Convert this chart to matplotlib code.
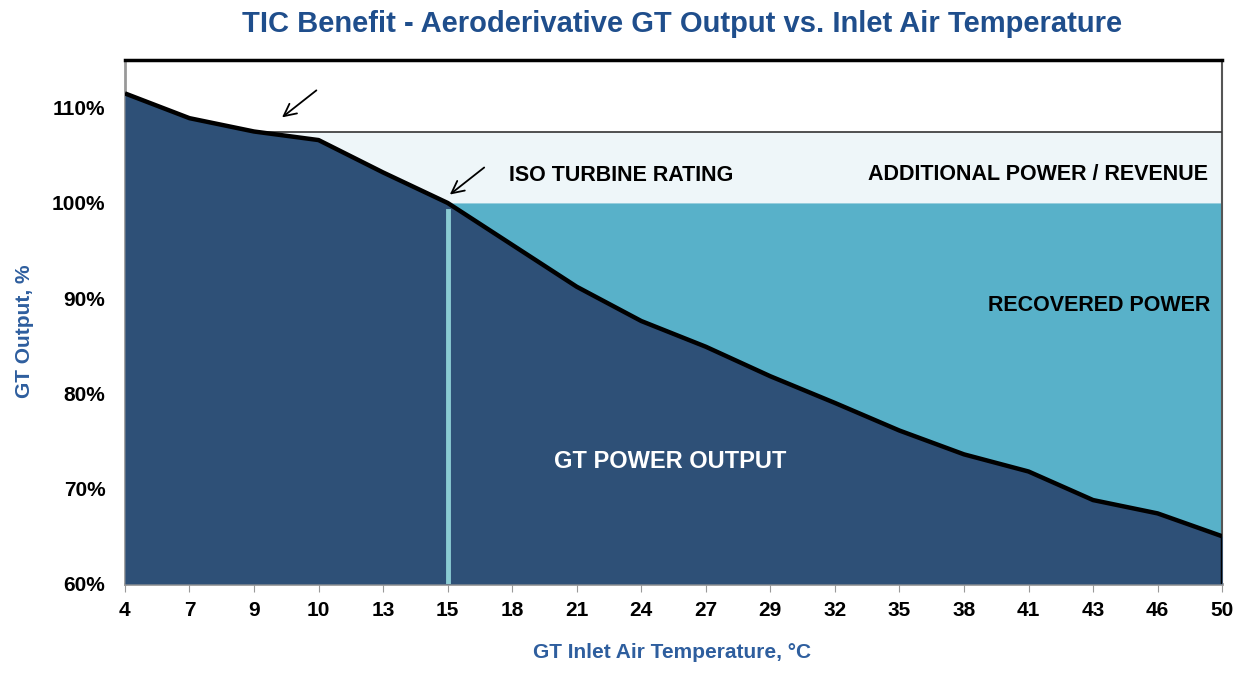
import matplotlib
matplotlib.use("Agg")
import matplotlib.pyplot as plt
import numpy as np

# data
temps = [4, 7, 9, 10, 13, 15, 18, 21, 24, 27, 29, 32, 35, 38, 41, 43, 46, 50]
output_pct = [111.5, 108.9, 107.5, 106.6, 103.2, 100.0, 95.6, 91.2, 87.6, 84.9,
              81.8, 79.0, 76.1, 73.6, 71.8, 68.8, 67.4, 65.0]
iso_temp = 15
iso_rating = 100.0
cap_rating = 107.5
y_ticks = [60, 70, 80, 90, 100, 110]

plt.rcParams['font.family'] = ['Liberation Sans Narrow', 'Liberation Sans', 'DejaVu Sans']
plt.rcParams['font.weight'] = 'bold'

navy = '#2E5077'
teal = '#58B1C9'
pale = '#EEF6F9'
blue_txt = '#1F4E8C'

x = np.arange(len(temps))
y = np.array(output_pct)
iso_idx = temps.index(iso_temp)

fig = plt.figure(figsize=(12.37, 6.75), dpi=100)
ax = fig.add_axes([0.101, 0.135, 0.887, 0.776])

# pale band between cap line and the curve / ISO line
ax.fill_between(x, np.minimum(y, cap_rating), cap_rating, where=y <= cap_rating + 0.01,
                color=pale, interpolate=True, lw=0, zorder=1)
# recovered power: between curve and ISO rating, after the ISO point
ax.fill_between(x[iso_idx:], y[iso_idx:], iso_rating, color=teal, lw=0, zorder=2)
# GT power output
ax.fill_between(x, 60, y, color=navy, lw=0, zorder=3)

# cap line
cross = np.interp(-cap_rating, -y, x)
ax.plot([cross, x[-1]], [cap_rating, cap_rating], color='#333333', lw=1.2, zorder=4)
# ISO vertical
ax.plot([iso_idx, iso_idx], [60, iso_rating - 0.8], color='#8ACBD3', lw=3.5, zorder=4)
# curve
ax.plot(x, y, color='black', lw=3.2, zorder=5, solid_capstyle='butt')
ax.plot([x[-1], x[-1]], [60, y[-1]], color='black', lw=2.5, zorder=5)

ax.set_xlim(0, len(temps) - 1)
ax.set_ylim(60, 115)
ax.set_xticks(x)
ax.set_xticklabels([str(t) for t in temps])
ax.set_yticks(y_ticks)
ax.set_yticklabels([f'{v}%' for v in y_ticks])
ax.tick_params(axis='x', length=6, color='#999999', labelsize=15, pad=6)
ax.tick_params(axis='y', length=0, labelsize=15, pad=14)

for side in ['left', 'bottom']:
    ax.spines[side].set_color('#999999')
    ax.spines[side].set_linewidth(2)
ax.spines['top'].set_color('black')
ax.spines['top'].set_linewidth(2.5)
ax.spines['right'].set_color('#555555')
ax.spines['right'].set_linewidth(1.5)

# annotations
arrow = dict(arrowstyle='->', color='black', lw=1.3, mutation_scale=22)
ax.annotate('', xy=(2.4, 108.8), xytext=(3.0, 112.0), arrowprops=arrow, zorder=6)
ax.annotate('', xy=(5.0, 100.7), xytext=(5.6, 103.9), arrowprops=arrow, zorder=6)
ax.text(5.95, 102.9, 'ISO TURBINE RATING', fontsize=15.5, va='center', ha='left', color='black')
ax.text(16.78, 103.0, 'ADDITIONAL POWER / REVENUE', fontsize=15.5, va='center', ha='right', color='black')
ax.text(16.82, 89.2, 'RECOVERED POWER', fontsize=15.5, va='center', ha='right', color='black')
ax.text(8.45, 72.9, 'GT POWER OUTPUT', fontsize=17, va='center', ha='center', color='white')

fig.text(0.551, 0.965, 'TIC Benefit - Aeroderivative GT Output vs. Inlet Air Temperature',
         fontsize=21, ha='center', va='center', color=blue_txt)
fig.text(0.543, 0.02, 'GT Inlet Air Temperature, \u00b0C', fontsize=15, ha='center',
         va='bottom', color='#2E5E9E')
fig.text(0.02, 0.51, 'GT Output, %', fontsize=15, rotation=90, ha='center', va='center',
         color='#2E5E9E')

fig.savefig('out.png', dpi=100)
